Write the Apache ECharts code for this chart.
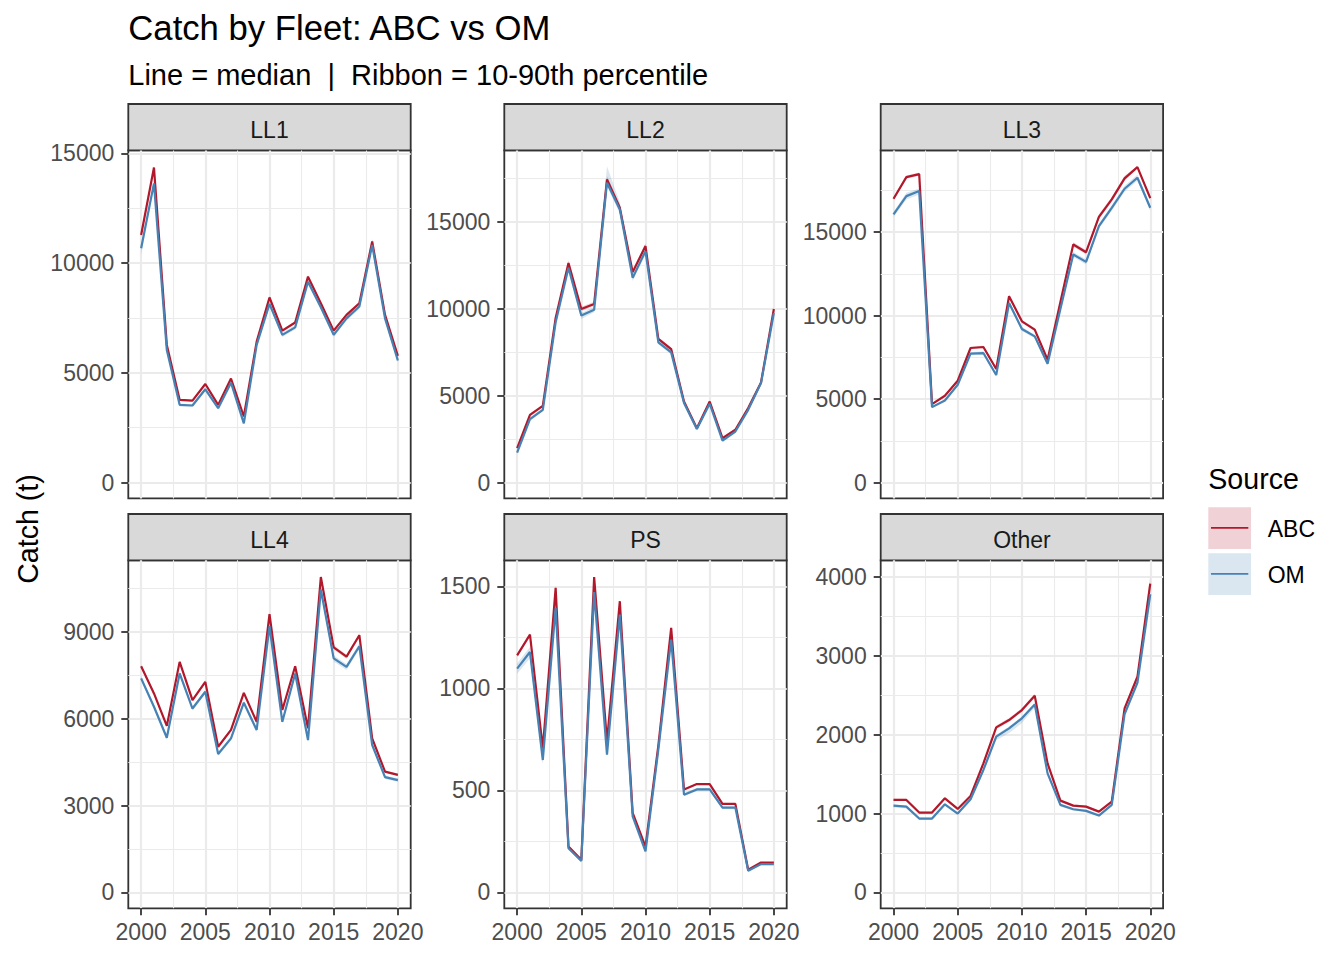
<!DOCTYPE html>
<html>
<head>
<meta charset="utf-8">
<title>Catch by Fleet: ABC vs OM</title>
<script src="https://cdn.jsdelivr.net/npm/echarts@6/dist/echarts.min.js"></script>
<style>
  html, body { margin: 0; padding: 0; background: #fff; }
  #chart { width: 1344px; height: 960px; }
</style>
</head>
<body>
<div id="chart"></div>
<script>
// ---- data ----
const years = [2000, 2001, 2002, 2003, 2004, 2005, 2006, 2007, 2008, 2009, 2010,
  2011, 2012, 2013, 2014, 2015, 2016, 2017, 2018, 2019, 2020]
const xTicks = [2000, 2005, 2010, 2015, 2020]
const fleets = ['LL1', 'LL2', 'LL3', 'LL4', 'PS', 'Other']
const sources = ['ABC', 'OM']

// medians
const ll1Abc = [11280, 14350, 6270, 3770, 3730, 4490, 3540, 4740, 3010, 6420, 8430, 6920, 7290, 9380, 8170, 6920, 7640, 8170, 10980, 7640, 5770]
const ll1Om = [10670, 13630, 6040, 3540, 3510, 4250, 3390, 4550, 2700, 6270, 8140, 6730, 7070, 9150, 7990, 6730, 7480, 8020, 10820, 7480, 5560]
const ll2Abc = [1980, 3900, 4420, 9480, 12650, 10000, 10290, 17460, 15830, 12120, 13620, 8270, 7690, 4670, 3130, 4670, 2560, 3040, 4290, 5770, 10000]
const ll2Om = [1730, 3650, 4190, 9230, 12370, 9620, 9960, 17270, 15730, 11790, 13330, 8080, 7500, 4580, 3080, 4540, 2420, 2940, 4190, 5730, 9770]
const ll3Abc = [17000, 18300, 18480, 4700, 5200, 6100, 8060, 8120, 6800, 11160, 9660, 9160, 7360, 10820, 14260, 13800, 15920, 16960, 18220, 18900, 17040]
const ll3Om = [16060, 17160, 17460, 4520, 4920, 5860, 7720, 7760, 6440, 10760, 9200, 8760, 7120, 10400, 13660, 13220, 15360, 16460, 17600, 18260, 16460]
const ll4Abc = [7810, 6870, 5750, 7960, 6640, 7270, 5030, 5610, 6890, 5890, 9610, 6300, 7810, 5670, 10890, 8460, 8140, 8880, 5320, 4170, 4060]
const ll4Om = [7390, 6410, 5340, 7560, 6350, 6930, 4780, 5320, 6550, 5610, 9190, 5890, 7560, 5260, 10460, 8080, 7790, 8500, 5090, 3980, 3880]
const psAbc = [1162, 1263, 706, 1493, 225, 160, 1545, 740, 1427, 390, 225, 720, 1296, 504, 531, 531, 434, 434, 111, 147, 147]
const psOm = [1097, 1178, 649, 1395, 217, 155, 1472, 675, 1361, 373, 201, 700, 1239, 479, 505, 505, 416, 416, 106, 139, 139]
const otherAbc = [1173, 1173, 1013, 1013, 1194, 1059, 1224, 1637, 2093, 2186, 2312, 2493, 1637, 1164, 1101, 1088, 1025, 1152, 2333, 2734, 3915]
const otherOm = [1101, 1088, 937, 937, 1118, 1000, 1181, 1553, 1975, 2080, 2207, 2384, 1510, 1110, 1055, 1034, 975, 1110, 2261, 2658, 3780]

// ribbon: distance from median down to 10th pct and up to 90th pct
const ll1AbcBelow = [90, 60, 60, 40, 40, 50, 40, 50, 40, 60, 80, 60, 60, 80, 70, 60, 60, 70, 90, 70, 60]
const ll1AbcAbove = [90, 60, 60, 40, 40, 50, 40, 50, 40, 60, 80, 60, 60, 80, 70, 60, 60, 70, 90, 70, 60]
const ll1OmBelow = [300, 160, 100, 60, 60, 80, 60, 80, 80, 100, 120, 100, 100, 120, 110, 100, 100, 110, 120, 110, 90]
const ll1OmAbove = [120, 160, 100, 60, 60, 80, 60, 80, 80, 100, 120, 100, 100, 120, 110, 100, 100, 110, 260, 110, 90]
const ll2AbcBelow = [60, 80, 80, 120, 150, 120, 120, 200, 180, 150, 150, 100, 100, 80, 60, 80, 60, 60, 80, 90, 120]
const ll2AbcAbove = [60, 80, 80, 120, 150, 120, 120, 200, 180, 150, 150, 100, 100, 80, 60, 80, 60, 60, 80, 90, 120]
const ll2OmBelow = [80, 100, 100, 150, 180, 200, 150, 200, 250, 180, 180, 120, 120, 100, 80, 100, 80, 80, 100, 110, 150]
const ll2OmAbove = [80, 100, 100, 150, 200, 150, 150, 950, 400, 180, 180, 120, 120, 100, 80, 100, 80, 80, 100, 110, 150]
const ll3AbcBelow = [100, 100, 100, 50, 50, 60, 80, 80, 70, 100, 90, 90, 70, 100, 130, 130, 150, 150, 160, 50, 150]
const ll3AbcAbove = [100, 100, 100, 50, 50, 60, 80, 80, 70, 100, 90, 90, 70, 100, 130, 130, 150, 150, 160, 50, 150]
const ll3OmBelow = [150, 200, 200, 60, 60, 80, 100, 100, 90, 120, 120, 110, 100, 130, 150, 150, 160, 170, 180, 180, 170]
const ll3OmAbove = [150, 200, 150, 60, 60, 80, 100, 100, 90, 120, 120, 110, 100, 130, 150, 150, 160, 170, 180, 180, 170]
const ll4AbcBelow = [60, 60, 50, 60, 50, 60, 40, 50, 60, 50, 80, 50, 60, 50, 30, 70, 70, 70, 50, 40, 40]
const ll4AbcAbove = [60, 60, 50, 60, 50, 60, 40, 50, 60, 50, 80, 50, 60, 50, 30, 70, 70, 70, 50, 40, 40]
const ll4OmBelow = [80, 80, 70, 80, 70, 80, 60, 70, 80, 70, 100, 70, 80, 70, 120, 110, 110, 100, 70, 60, 60]
const ll4OmAbove = [80, 80, 70, 80, 70, 80, 60, 70, 80, 70, 100, 70, 80, 70, 120, 100, 100, 100, 70, 60, 60]
const psAbcBelow = [8, 8, 6, 8, 4, 3, 5, 6, 8, 4, 4, 6, 8, 4, 4, 4, 4, 4, 2, 2, 2]
const psAbcAbove = [8, 8, 6, 8, 4, 3, 5, 6, 8, 4, 4, 6, 8, 4, 4, 4, 4, 4, 2, 2, 2]
const psOmBelow = [25, 30, 20, 15, 8, 6, 15, 10, 15, 8, 8, 10, 12, 8, 8, 8, 8, 8, 5, 5, 5]
const psOmAbove = [25, 25, 10, 15, 8, 6, 15, 10, 15, 8, 8, 10, 12, 8, 8, 8, 8, 8, 5, 5, 5]
const otherAbcBelow = [15, 15, 12, 12, 15, 12, 15, 20, 25, 25, 25, 25, 20, 15, 15, 15, 12, 15, 25, 30, 40]
const otherAbcAbove = [15, 15, 12, 12, 15, 12, 15, 20, 25, 25, 25, 25, 20, 15, 15, 15, 12, 15, 25, 30, 95]
const otherOmBelow = [25, 25, 15, 15, 20, 15, 20, 30, 45, 60, 60, 40, 25, 20, 15, 15, 15, 20, 30, 35, 50]
const otherOmAbove = [15, 15, 12, 12, 15, 12, 15, 20, 25, 25, 25, 25, 20, 15, 15, 15, 12, 15, 25, 30, 50]

// y tick labels per facet
const ll1Ticks = [0, 5000, 10000, 15000]
const ll2Ticks = [0, 5000, 10000, 15000]
const ll3Ticks = [0, 5000, 10000, 15000]
const ll4Ticks = [0, 3000, 6000, 9000]
const psTicks = [0, 500, 1000, 1500]
const otherTicks = [0, 1000, 2000, 3000, 4000]

const panels = [
  { abc: ll1Abc, om: ll1Om, abcLo: ll1AbcBelow, abcHi: ll1AbcAbove, omLo: ll1OmBelow, omHi: ll1OmAbove, ticks: ll1Ticks },
  { abc: ll2Abc, om: ll2Om, abcLo: ll2AbcBelow, abcHi: ll2AbcAbove, omLo: ll2OmBelow, omHi: ll2OmAbove, ticks: ll2Ticks },
  { abc: ll3Abc, om: ll3Om, abcLo: ll3AbcBelow, abcHi: ll3AbcAbove, omLo: ll3OmBelow, omHi: ll3OmAbove, ticks: ll3Ticks },
  { abc: ll4Abc, om: ll4Om, abcLo: ll4AbcBelow, abcHi: ll4AbcAbove, omLo: ll4OmBelow, omHi: ll4OmAbove, ticks: ll4Ticks },
  { abc: psAbc, om: psOm, abcLo: psAbcBelow, abcHi: psAbcAbove, omLo: psOmBelow, omHi: psOmAbove, ticks: psTicks },
  { abc: otherAbc, om: otherOm, abcLo: otherAbcBelow, abcHi: otherAbcAbove, omLo: otherOmBelow, omHi: otherOmAbove, ticks: otherTicks },
]

// ---- look ----
const FONT = '"Liberation Sans", Arial, Helvetica, sans-serif'
const RED = '#B2182B'
const BLUE = '#4682B4'
const RED_FILL = 'rgba(178,24,43,0.2)'
const BLUE_FILL = 'rgba(70,130,180,0.2)'
const GRID_COL = '#EBEBEB'
const DARK = '#333333'

const COL_LEFT = [128.3, 504.3, 880.7]
const PANEL_W = 282.4
const STRIP_TOP = [104, 514]
const STRIP_H = 46.3
const PLOT_TOP = [150.4, 560.3]
const PLOT_H = 348

const X_MIN = years[0] - (years[years.length - 1] - years[0]) * 0.05
const X_MAX = years[years.length - 1] + (years[years.length - 1] - years[0]) * 0.05

// ggplot style minor breaks: halfway between majors
function minorBreaks(ticks, min, max) {
  const out = []
  const step = ticks[1] - ticks[0]
  const first = ticks[0] - step / 2
  if (first > min) out.push(first)
  for (let i = 0; i < ticks.length - 1; i++) out.push((ticks[i] + ticks[i + 1]) / 2)
  const last = ticks[ticks.length - 1] + step / 2
  if (last < max) out.push(last)
  return out
}

// whole ribbon as one polygon, projected through the grid's axes
function renderRibbon(fill) {
  return (params, api) => {
    if (params.dataIndexInside !== 0) return null
    const n = params.dataInsideLength
    const upper = []
    const lower = []
    for (let k = 0; k < n; k++) {
      upper.push(api.coord([api.value(0, k), api.value(2, k)]))
      lower.push(api.coord([api.value(0, k), api.value(1, k)]))
    }
    return {
      type: 'polygon',
      shape: { points: upper.concat(lower.reverse()) },
      style: { fill, stroke: null },
    }
  }
}

const grid = []
const xAxis = []
const yAxis = []
const series = []
const graphic = []
const xMinor = minorBreaks(xTicks, X_MIN, X_MAX)
const plain = (v) => String(v)

panels.forEach((p, i) => {
  const row = Math.floor(i / 3)
  const col = i % 3
  const bottom = row === 1
  const left = COL_LEFT[col]
  const top = PLOT_TOP[row]

  // y range like ggplot: include 0, expand 5%
  let hi = 0
  years.forEach((y, k) => {
    hi = Math.max(hi, p.abc[k] + p.abcHi[k], p.om[k] + p.omHi[k])
  })
  const yMin = -hi * 0.05
  const yMax = hi * 1.05

  grid.push({
    left, top, width: PANEL_W, height: PLOT_H,
    show: true, backgroundColor: '#fff', borderColor: DARK, borderWidth: 1.8,
    containLabel: false, outerBoundsMode: 'none',
  })

  xAxis.push({
    type: 'value', gridIndex: i, min: X_MIN, max: X_MAX, position: 'bottom',
    axisLine: { show: false, onZero: false },
    axisTick: { show: bottom, customValues: xTicks, length: 7, lineStyle: { color: DARK, width: 1.8 } },
    axisLabel: { show: bottom, customValues: xTicks, formatter: plain, margin: 12, fontSize: 23, color: '#4D4D4D', fontFamily: FONT },
    splitLine: { show: true, lineStyle: { color: GRID_COL, width: 2.2 } },
  })
  xAxis.push({
    type: 'value', gridIndex: i, min: X_MIN, max: X_MAX, position: 'top',
    axisLine: { show: false, onZero: false },
    axisTick: { show: false, customValues: xMinor },
    axisLabel: { show: false },
    splitLine: { show: true, lineStyle: { color: GRID_COL, width: 1.1 } },
  })
  yAxis.push({
    type: 'value', gridIndex: i, min: yMin, max: yMax, position: 'left',
    axisLine: { show: false, onZero: false },
    axisTick: { show: true, customValues: p.ticks, length: 7, lineStyle: { color: DARK, width: 1.8 } },
    axisLabel: { show: true, customValues: p.ticks, formatter: plain, margin: 14, fontSize: 23, color: '#4D4D4D', fontFamily: FONT },
    splitLine: { show: true, lineStyle: { color: GRID_COL, width: 2.2 } },
  })
  yAxis.push({
    type: 'value', gridIndex: i, min: yMin, max: yMax, position: 'right',
    axisLine: { show: false, onZero: false },
    axisTick: { show: false, customValues: minorBreaks(p.ticks, yMin, yMax) },
    axisLabel: { show: false },
    splitLine: { show: true, lineStyle: { color: GRID_COL, width: 1.1 } },
  })

  const axes = { xAxisIndex: i * 2, yAxisIndex: i * 2 }
  const ribbon = (med, lo, up, fill) => {
    series.push({
      type: 'custom', ...axes, silent: true, z: 2, clip: true,
      renderItem: renderRibbon(fill),
      encode: { x: 0, y: [1, 2] },
      data: years.map((y, k) => [y, med[k] - lo[k], med[k] + up[k]]),
    })
  }
  ribbon(p.abc, p.abcLo, p.abcHi, RED_FILL)
  ribbon(p.om, p.omLo, p.omHi, BLUE_FILL)
  series.push({
    type: 'line', ...axes, name: 'ABC', symbol: 'none', z: 3,
    lineStyle: { color: RED, width: 2.2 },
    data: years.map((y, k) => [y, p.abc[k]]),
  })
  series.push({
    type: 'line', ...axes, name: 'OM', symbol: 'none', z: 4,
    lineStyle: { color: BLUE, width: 2.2 },
    data: years.map((y, k) => [y, p.om[k]]),
  })

  // facet strip
  graphic.push({
    type: 'rect', shape: { x: left, y: STRIP_TOP[row], width: PANEL_W, height: STRIP_H },
    style: { fill: '#D9D9D9', stroke: DARK, lineWidth: 1.8 },
  })
  graphic.push({
    type: 'text', x: left + PANEL_W / 2, y: STRIP_TOP[row] + 25.5,
    style: { text: fleets[i], fontSize: 23, fontFamily: FONT, fill: '#1A1A1A', align: 'center', verticalAlign: 'middle' },
  })
})

// titles
graphic.push({
  type: 'text', x: 128.3, y: 28,
  style: { text: 'Catch by Fleet: ABC vs OM', fontSize: 34.7, fontFamily: FONT, fill: '#000', align: 'left', verticalAlign: 'middle' },
})
graphic.push({
  type: 'text', x: 128.3, y: 75,
  style: { text: 'Line = median  |  Ribbon = 10-90th percentile', fontSize: 29, fontFamily: FONT, fill: '#000', align: 'left', verticalAlign: 'middle' },
})
graphic.push({
  type: 'text', x: 28, y: 529, rotation: Math.PI / 2,
  style: { text: 'Catch (t)', fontSize: 28.6, fontFamily: FONT, fill: '#000', align: 'center', verticalAlign: 'middle' },
})

// legend
graphic.push({
  type: 'text', x: 1208.3, y: 478.5,
  style: { text: 'Source', fontSize: 28.6, fontFamily: FONT, fill: '#000', align: 'left', verticalAlign: 'middle' },
})
const keyColors = [[RED_FILL, RED], [BLUE_FILL, BLUE]]
sources.forEach((s, k) => {
  const y0 = 507.3 + k * 46
  graphic.push({ type: 'rect', shape: { x: 1208.3, y: y0, width: 42.7, height: 41.7 }, style: { fill: keyColors[k][0] } })
  graphic.push({ type: 'line', shape: { x1: 1211, y1: y0 + 20.6, x2: 1248.3, y2: y0 + 20.6 }, style: { stroke: keyColors[k][1], lineWidth: 1.8 } })
  graphic.push({
    type: 'text', x: 1267.7, y: y0 + 21.5,
    style: { text: s, fontSize: 23, fontFamily: FONT, fill: '#000', align: 'left', verticalAlign: 'middle' },
  })
})

const chart = echarts.init(document.getElementById('chart'), null, { renderer: 'svg' })
chart.setOption({
  animation: false,
  backgroundColor: '#fff',
  grid, xAxis, yAxis, series,
  graphic: { elements: graphic },
})
</script>
</body>
</html>
